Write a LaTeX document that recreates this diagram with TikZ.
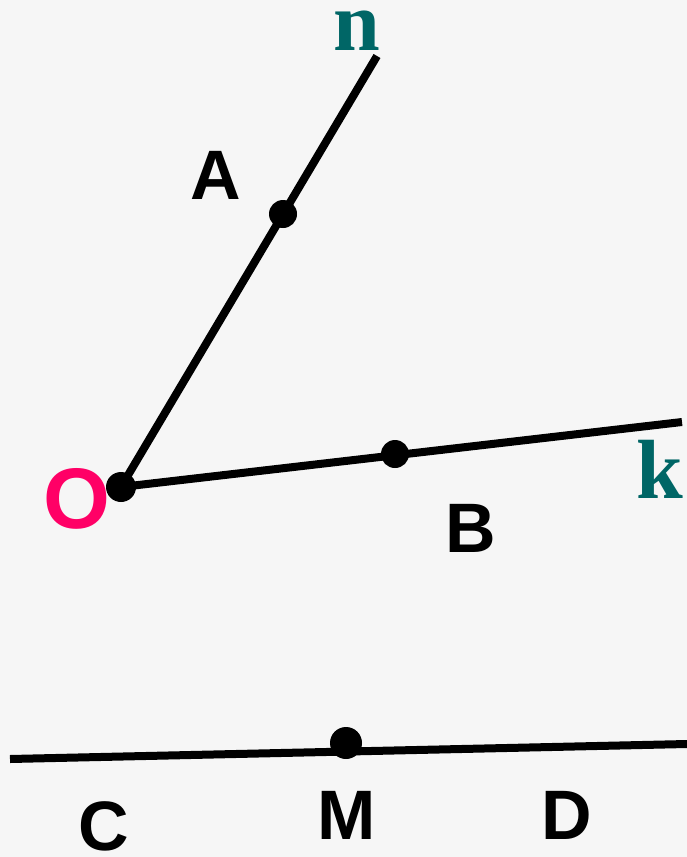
\documentclass[tikz,border=0pt]{standalone}
\usepackage{fontspec}
\setsansfont{Liberation Sans}
\newfontfamily\serifn{Liberation Serif}
\usetikzlibrary{positioning}
\definecolor{fondo}{HTML}{F6F6F6}
\definecolor{verdeazul}{HTML}{006666}
\definecolor{rosa}{HTML}{FF0066}
\tikzset{
  punto/.style    = {circle, fill=black, inner sep=0pt, minimum size=30pt},
  recta/.style    = {draw=black, line width=8pt, line cap=butt},
  rotulo/.style   = {font=\sffamily\bfseries\fontsize{70}{80}\selectfont,
                     text=black, inner sep=0pt},
  vertice/.style  = {rotulo, font=\sffamily\bfseries\fontsize{86}{96}\selectfont,
                     text=rosa},
  rayo/.style     = {font=\serifn\bfseries\fontsize{84}{96}\selectfont,
                     text=verdeazul, inner sep=0pt},
}

\begin{document}
\begin{tikzpicture}[x=1pt,y=-1pt]

\fill[fondo] (0,0) rectangle (687,857);
\useasboundingbox (0,0) rectangle (687,857);

% =============================================================================
% Angulo nOk
% =============================================================================
\coordinate (fn) at (377,56);
\coordinate (fk) at (682,422);

\node[punto] (O) at (121,487) {};
\node[punto, minimum size=28pt] (A) at (283,214) {};
\node[punto, minimum size=28pt] (B) at (395,454) {};

\draw[recta] (O.center) -- (fn);
\draw[recta] (O.center) -- (fk);

\node[vertice] (tO) at (77,499) {O};
\node[rotulo] (tA) at (216,175) {A};
\node[rotulo] (tB) at (471,528) {B};
\node[rayo] (tn) at (357,31) {n};
\node[rayo] (tk) at (660,469) {k};

% =============================================================================
% Recta CD con el punto M
% =============================================================================
\coordinate (fc) at (10,759);
\coordinate (fd) at (687,744);

\draw[recta] (fc) -- (fd);
\node[punto, minimum size=32pt] (M) at (346,743) {};

\node[rotulo] (tC) at (104,826) {C};
\node[rotulo] (tM) at (347,815) {M};
\node[rotulo] (tD) at (567,815) {D};

\end{tikzpicture}
\end{document}
